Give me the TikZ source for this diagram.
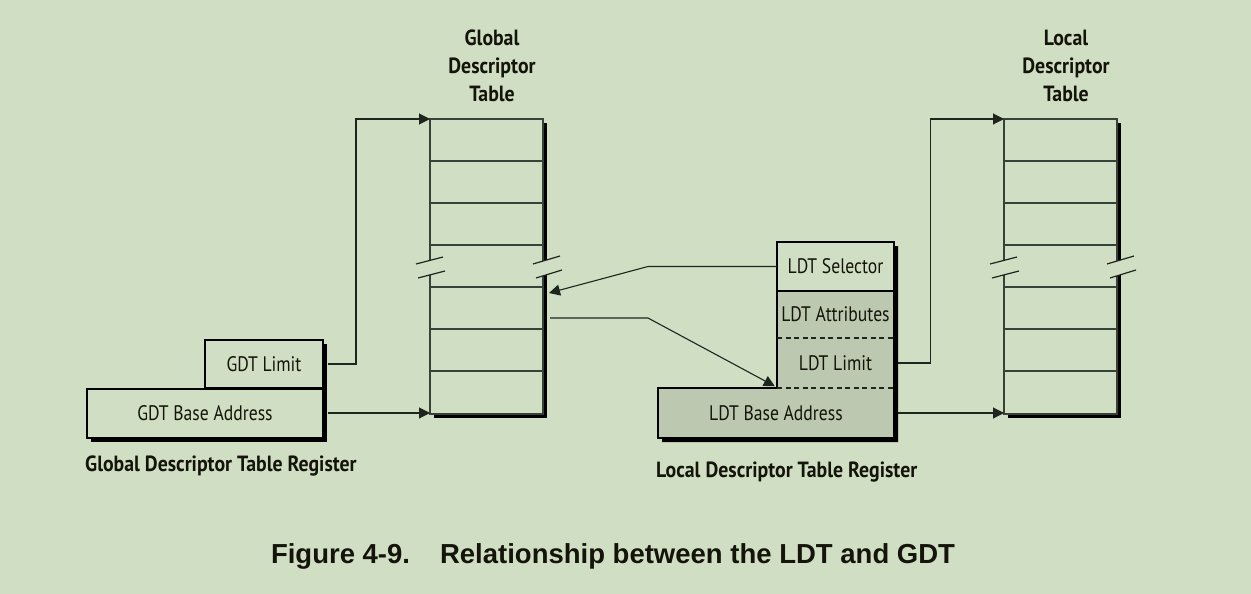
\documentclass[tikz,border=0pt]{standalone}
\usepackage{fontspec}
\usetikzlibrary{arrows.meta}
\newfontfamily\labfont[FakeStretch=0.84]{PT Sans}
\newfontfamily\ttlfont[FakeStretch=0.9]{PT Sans Bold}
\newfontfamily\capfont{Liberation Sans}
\definecolor{bg}{RGB}{208,223,196}
\definecolor{regshade}{RGB}{188,201,176}
\definecolor{ln}{RGB}{30,36,30}
\definecolor{tl}{RGB}{55,65,55}
\definecolor{txt}{RGB}{20,20,10}
\tikzset{
  lab/.style={font=\labfont\fontsize{21}{24}\selectfont, inner sep=0pt, text=txt},
  ttl/.style={font=\ttlfont\fontsize{22}{28}\selectfont, align=center, inner sep=0pt, text=txt},
  regbox/.style={lab, draw=black, line width=2pt, fill=bg},
  conn/.style={draw=ln, line width=1.1pt},
  arr/.style={conn, -{Triangle[length=11pt,width=11pt]}},
  tabline/.style={draw=tl, line width=1.3pt},
  slash/.style={draw=ln, line width=1.2pt},
}
\newcommand\desctable[2]{%
  \fill[black] (#1+4,123) rectangle (#1+117,418);
  \fill[bg] (#1,119) rectangle (#1+113,414);
  \foreach \r in {161,203,245,287,329,371} \draw[tabline] (#1,\r) -- (#1+113,\r);
  \draw[tabline] (#1,119) rectangle (#1+113,414);
  \coordinate (#2nw) at (#1,119);
  \coordinate (#2sw) at (#1,413);
  \fill[bg] (#1-14,264) -- (#1+13,257) -- (#1+15,271) -- (#1-12,278) -- cycle;
  \draw[slash] (#1-14,264) -- (#1+13,257);
  \draw[slash] (#1-12,278) -- (#1+15,271);
  \fill[bg] (#1+103,264) -- (#1+130,256) -- (#1+132,270) -- (#1+106,278) -- cycle;
  \draw[slash] (#1+103,264) -- (#1+130,256);
  \draw[slash] (#1+106,278) -- (#1+132,270);
}
\begin{document}
\begin{tikzpicture}[x=1pt,y=-1pt]
\useasboundingbox[fill=bg] (0,0) rectangle (1251,594);

% tables
\desctable{430}{gdt}
\desctable{1004}{ldt}
\coordinate (gdtin) at (549,293);
\coordinate (gdtout) at (550,318);

\node[ttl] (gdttitle) at (492,66) {Global\\Descriptor\\Table};
\node[ttl] (ldttitle) at (1066,66) {Local\\Descriptor\\Table};

% GDT register
\fill[black] (209,344) rectangle (327,392);
\node[regbox, minimum width=118pt, minimum height=48pt] (gdtlim) at (264,364) {GDT Limit};
\fill[black] (91,392) rectangle (327,442);
\node[regbox, minimum width=236pt, minimum height=49pt] (gdtbase) at (205,413) {GDT Base Address};
\node[ttl, anchor=west] (gdtreg) at (85,466) {Global Descriptor Table Register};

\draw[arr] ([xshift=4pt]gdtlim.east) -- ++(28,0) |- (gdtnw);
\draw[arr] ([xshift=4pt]gdtbase.east) -- (gdtsw);

% LDT register
\fill[black] (781,246) -- (898,246) -- (898,442) -- (662,442) -- (662,392) -- (781,392) -- cycle;
\fill[bg] (777,242) rectangle (894,291);
\fill[regshade] (777,291) -- (894,291) -- (894,438) -- (658,438) -- (658,388) -- (777,388) -- cycle;
\node[lab, minimum width=117pt, minimum height=49pt] (ldtsel) at (835.5,266.5) {LDT Selector};
\node[lab] (ldtattr) at (835.5,314.5) {LDT Attributes};
\node[lab, minimum width=117pt, minimum height=50pt] (ldtlim) at (835.5,363) {LDT Limit};
\node[lab, minimum width=236pt, minimum height=50pt] (ldtbase) at (776,413) {LDT Base Address};
\draw[line width=2pt, line join=miter] (777,242) -- (894,242) -- (894,438) -- (658,438) -- (658,388) -- (777,388) -- cycle;
\draw[line width=2pt] (777,291) -- (894,291);
\draw[draw=ln, line width=1.2pt, dash pattern=on 5pt off 3.5pt] (777,338) -- (894,338);
\draw[draw=ln, line width=1.2pt, dash pattern=on 5pt off 3.5pt] (777,388) -- (894,388);
\node[ttl, anchor=west] (ldtreg) at (656,472) {Local Descriptor Table Register};

\draw[arr] (ldtsel.west) -- (648,266.5) -- (gdtin);
\draw[arr] (gdtout) -- (648,318) -- ([shift={(-2,-2)}]ldtlim.south west);
\draw[arr] ([xshift=4pt]ldtlim.east) -- ++(32,0) |- (ldtnw);
\draw[arr] ([xshift=4pt]ldtbase.east) -- (ldtsw);

\node[font=\capfont\bfseries\fontsize{27.5}{32}\selectfont, text=txt] (cap) at (613,556) {Figure 4-9.\hspace{30pt}Relationship between the LDT and GDT};
\end{tikzpicture}
\end{document}
